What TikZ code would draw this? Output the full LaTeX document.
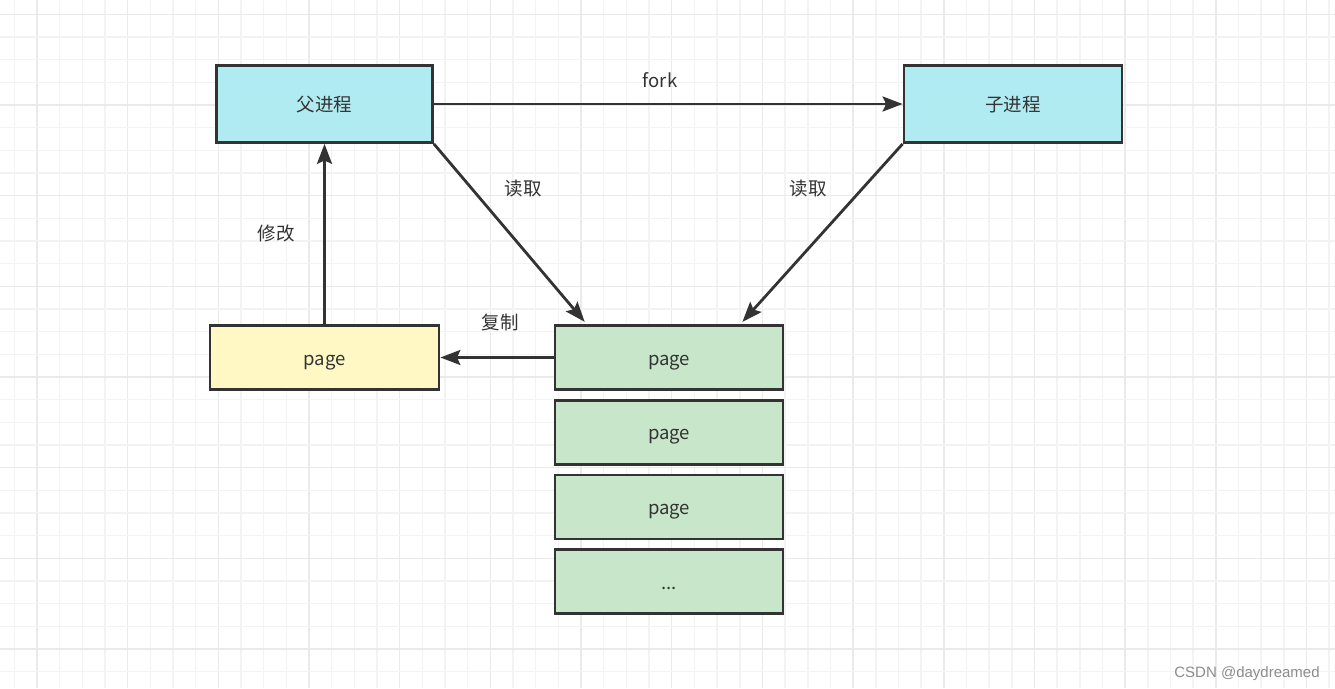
\documentclass[tikz,border=0pt]{standalone}
\usepackage{fontspec}
\setmainfont{Noto Sans CJK SC}
\newfontfamily\markfont{Liberation Sans}
\usepackage{xcolor}
\usepackage{tikz}
\usetikzlibrary{arrows.meta,positioning,chains}

\definecolor{procfill}{HTML}{B1EBF2}
\definecolor{copyfill}{HTML}{FFF8C4}
\definecolor{pagefill}{HTML}{C8E6C9}
\definecolor{edgegray}{HTML}{333333}
\definecolor{gridlight}{HTML}{F3F3F3}
\definecolor{griddark}{HTML}{EAEAEA}

\begin{document}
\begin{tikzpicture}[x=1pt,y=-1pt]
  \tikzstyle{every node}=[font=\fontsize{18.5}{22}\selectfont,text=edgegray,text height=16pt,text depth=1pt]

  \edef\pagewidth{228pt}
  \edef\pageheight{64pt}
  \tikzstyle{proc}=[draw=edgegray,line width=2.8pt,fill=procfill,minimum width=216pt,minimum height=77pt]
  \tikzstyle{pagebox}=[draw=edgegray,line width=2.8pt,fill=pagefill,minimum width=\pagewidth,minimum height=\pageheight]
  \tikzstyle{copybox}=[pagebox,fill=copyfill,minimum width=229pt]
  \tikzstyle{link}=[draw=edgegray,line width=2.8pt,-{Stealth[length=20pt,width=15pt,inset=3.5pt]}]

  \useasboundingbox (0,0) rectangle (1335,688);
  \fill[white] (0,0) rectangle (1335,688);

  % background grid
  \foreach \i in {0,...,58}{
    \pgfmathtruncatemacro\r{mod(\i,4)}
    \ifnum\r=1 \def\gc{griddark}\else\def\gc{gridlight}\fi
    \draw[\gc,line width=1.5pt] ({14.3+22.67*\i},0) -- ++(0,688);
  }
  \foreach \i in {0,...,29}{
    \pgfmathtruncatemacro\r{mod(\i,4)}
    \ifnum\r=0 \def\gc{griddark}\else\def\gc{gridlight}\fi
    \draw[\gc,line width=1.5pt] (0,{14.3+22.67*\i}) -- ++(1335,0);
  }

  \node [proc] (parent) at (324.5,104) {父进程};
  \node [proc,minimum width=218pt] (child) at (1013,104) {子进程};
  \node [copybox] (copy) at (324.5,357.5) {page};

  \begin{scope}[start chain=1 going below,node distance=7.9pt]
  \node [on chain=1,pagebox] (pg1) at (669,357.5) {page};
  \node [on chain=1,pagebox] (pg2) {page};
  \node [on chain=1,pagebox] (pg3) {page};
  \node [on chain=1,pagebox] (pg4) {...};
  \end{scope}

  \draw [link] (parent.east) -- (child.west);
  \draw [link,shorten >=3pt] (parent.south east) -- ([xshift=33pt]pg1.north west);
  \draw [link,shorten >=3pt] (child.south west) -- ([xshift=-44pt]pg1.north east);
  \draw [link] (copy.north) -- (parent.south);
  \draw [link] (pg1.west) -- (copy.east);

  \node (forklbl) at (660,80) {fork};
  \node (readl) at (523,188) {读取};
  \node (readr) at (808,188) {读取};
  \node (modlbl) at (276,233) {修改};
  \node (duplbl) at (500,322) {复制};

  \node [font=\markfont\fontsize{15}{18}\selectfont,text=black!45] (mark) at (1247,670) {CSDN @daydreamed};
\end{tikzpicture}
\end{document}
